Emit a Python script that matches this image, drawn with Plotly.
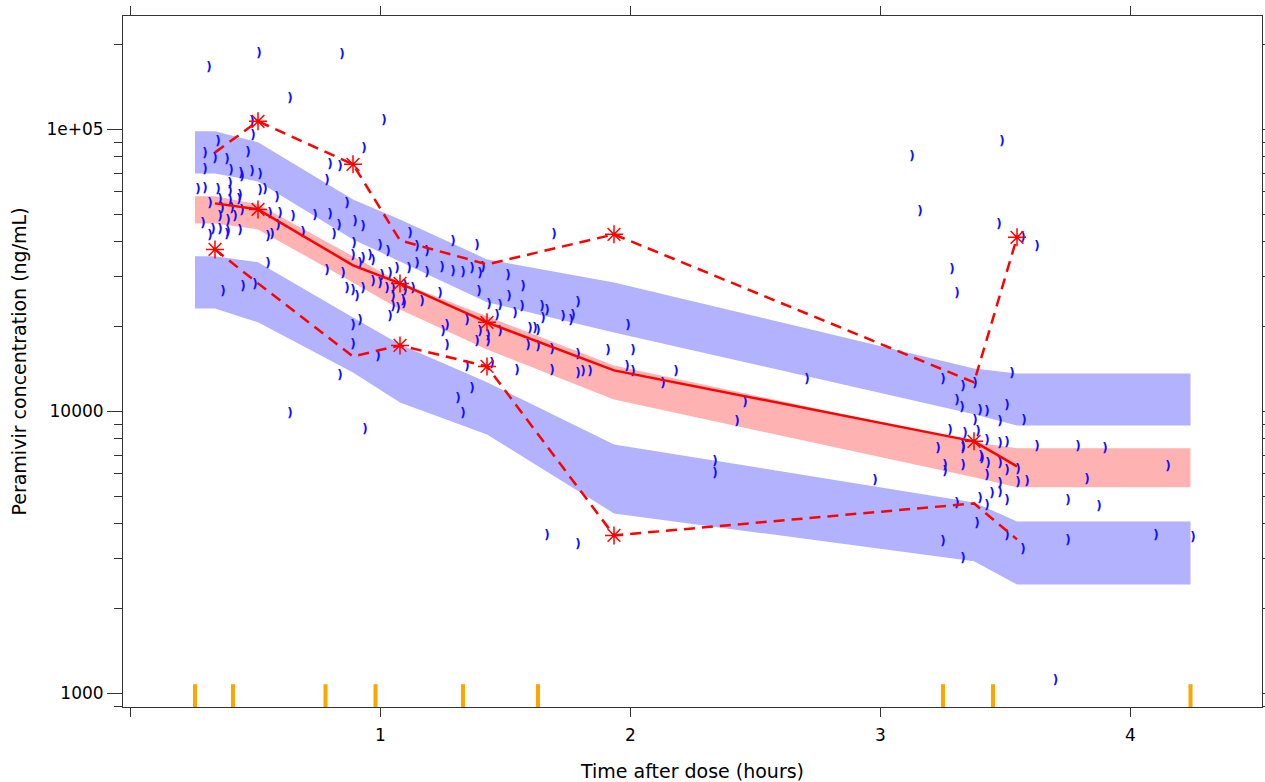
import plotly.graph_objects as go

# ---------------- data ----------------
# bin centres (hours) and the band end points (first / last bin boundary)
bin_time = [0.338, 0.51, 0.89, 1.078, 1.426, 1.934, 3.374, 3.546]
band_time = [0.258, 0.338, 0.51, 0.89, 1.078, 1.426, 1.934, 3.374, 3.546, 4.24]

# simulated prediction-interval confidence bands (ng/mL)
p95_upper = [98390, 98390, 89940, 56470, 47960, 34600, 28670, 14210, 13640, 13640]
p95_lower = [69820, 69820, 65410, 40730, 34040, 24360, 19060, 9764, 8923, 8923]
p50_upper = [57880, 57880, 54220, 35460, 28670, 21730, 14560, 7767, 7396, 7396]
p50_lower = [46420, 46420, 44200, 28670, 23000, 16590, 11030, 5837, 5379, 5379]
p05_upper = [35460, 35460, 33770, 21550, 17280, 12680, 7641, 4758, 4074, 4074]
p05_lower = [23190, 23190, 20690, 13750, 10760, 8291, 4350, 2940, 2436, 2436]

# observed percentiles per bin (ng/mL)
obs_p95 = [82880, 106800, 75160, 40400, 33220, 42440, 12680, 41410]
obs_p50 = [54660, 52040, 32950, 28440, 20690, 13980, 7831, 6385]
obs_p05 = [37540, 28440, 15670, 17140, 14440, 3635, 4719, 3518]

# bins where the observed percentile is flagged with a star
flag_p95 = [False, True, True, False, False, True, False, True]
flag_p50 = [False, True, False, True, True, False, True, False]
flag_p05 = [True, False, False, True, True, True, False, False]

# bin boundaries (rug)
bin_bounds = [0.258, 0.41, 0.78, 0.98, 1.33, 1.63, 3.25, 3.45, 4.24]

# observations
obs_time = [
    0.314, 0.514, 0.846, 0.638, 1.014, 0.486, 0.49, 0.35, 0.934, 0.298,
    0.338, 0.386, 0.47, 0.798, 0.838, 0.298, 0.402, 0.442, 0.446, 0.486,
    0.518, 0.786, 0.27, 0.298, 0.35, 0.398, 0.398, 0.438, 0.518, 0.538,
    0.586, 0.866, 0.318, 0.358, 0.398, 0.434, 0.366, 0.406, 0.446, 0.558,
    0.598, 0.65, 0.738, 0.798, 0.834, 0.898, 0.93, 0.29, 0.358, 0.39,
    0.418, 0.33, 0.358, 0.39, 0.438, 0.59, 0.69, 0.814, 0.318, 0.386,
    0.55, 0.566, 0.894, 0.998, 1.03, 0.958, 0.93, 0.89, 0.918, 0.97,
    1.118, 1.146, 1.114, 0.55, 0.786, 0.85, 0.866, 0.89, 0.93, 0.906,
    0.97, 0.998, 1.026, 1.05, 1.006, 1.038, 1.066, 1.098, 1.13, 1.05,
    1.09, 1.05, 1.07, 1.038, 0.37, 0.45, 0.498, 0.89, 0.918, 0.89,
    0.99, 0.838, 0.638, 0.938,
    1.186, 1.29, 1.386, 1.694, 1.146, 1.186, 1.246, 1.29, 1.33, 1.366,
    1.398, 1.41, 1.51, 1.57, 1.394, 1.514, 1.098, 1.094, 1.166, 1.238,
    1.434, 1.478, 1.466, 1.538, 1.566, 1.646, 1.666, 1.65, 1.598, 1.618,
    1.63, 1.73, 1.77, 1.79, 1.762, 1.346, 1.398, 1.43, 1.43, 1.386,
    1.478, 1.25, 1.266, 1.266, 1.59, 1.63, 1.686, 1.79, 1.99, 1.91,
    2.01, 1.546, 1.686, 1.79, 1.81, 1.838, 1.986, 1.346, 1.446, 1.366,
    1.31, 1.33, 1.666, 1.79,
    3.286, 3.306, 2.01, 2.182, 2.13, 2.706, 2.458, 2.426, 2.338, 2.338,
    2.978, 3.25, 3.33, 3.378, 3.306, 3.326, 3.398, 3.426, 3.378, 3.278,
    3.338, 3.39, 3.23, 3.33, 3.426, 3.258, 3.258, 3.33, 3.406, 3.43,
    3.426, 3.306, 3.398, 3.426, 3.386, 3.25, 3.33,
    3.526, 3.506, 3.478, 3.574, 3.33, 3.478, 3.506, 3.626, 3.79, 3.898,
    3.402, 3.478, 3.506, 3.55, 4.15, 3.478, 3.55, 3.586, 3.826, 3.446,
    3.478, 3.506, 3.75, 3.874, 3.506, 3.57, 3.75, 4.102, 4.25,
    3.486, 3.126, 3.158, 3.474, 3.57, 3.626, 3.7,
]
obs_conc = [
    164500, 184400, 182900, 127700, 106800, 105900, 94460, 89940, 84930, 81540,
    78280, 77650, 82200, 74550, 73340, 71560, 70980, 69260, 67590, 70400,
    68700, 65410, 60770, 61270, 60770, 63830, 59790, 57880, 60280, 60770,
    56940, 54220, 54220, 56010, 55560, 56010, 52040, 52040, 51200, 49960,
    49960, 48760, 49160, 49560, 45300, 46800, 44930, 46050, 48760, 47190,
    48760, 43840, 43840, 43130, 43490, 45300, 42780, 42090, 41750, 42090,
    41410, 42090, 39100, 38470, 36640, 35460, 34600, 35460, 33220, 34040,
    42440, 38160, 31880, 33220, 31370, 30610, 27080, 26640, 27080, 25370,
    28670, 28210, 27080, 27080, 30110, 30610, 31880, 27750, 27080, 25370,
    24560, 23390, 23000, 21550, 26430, 27530, 27980, 20030, 20860, 17140,
    15540, 13310, 9764, 8566,
    36640, 39750, 38470, 42090, 33220, 30860, 32150, 31110, 30860, 31880,
    30610, 32150, 30110, 27530, 26430, 25370, 26640, 23960, 24360, 26000,
    23770, 23580, 21730, 22080, 23390, 23390, 22630, 21200, 19530, 19530,
    19220, 21550, 21730, 24160, 20860, 20860, 19060, 18450, 17570, 17570,
    19060, 19060, 20030, 17000, 17000, 16860, 16460, 15800, 20030, 16320,
    16320, 13860, 13860, 13530, 13750, 13750, 14330, 14330, 14680, 11970,
    11030, 9764, 3606, 3350,
    31620, 26000, 13750, 13750, 12470, 12880, 10680, 9144, 6597, 5981,
    5649, 12880, 12170, 12470, 10850, 10250, 10010, 9925, 9219, 8497,
    8291, 8428, 7335, 7335, 7831, 6385, 6080, 6385, 6760, 6490,
    5885, 4681, 4876, 4606, 3976, 3433, 2988,
    13530, 10420, 9144, 9219, 7457, 7641, 7704, 7457, 7457, 7335,
    6872, 6490, 6130, 6180, 6333, 5512, 5557, 5603, 5694, 5080,
    5121, 4797, 4797, 4568, 3606, 3216, 3461, 3606, 3547,
    89940, 79570, 50790, 45670, 41060, 38160, 1110,
]

x_ticks = [0, 1, 2, 3, 4]
x_tick_text = ["", "1", "2", "3", "4"]
y_ticks = [1000, 10000, 100000]
y_tick_text = ["1000", "10000", "1e+05"]
y_minor = [900, 2000, 3000, 4000, 5000, 6000, 7000, 8000, 9000,
           20000, 30000, 40000, 50000, 60000, 70000, 80000, 90000, 200000]

# ---------------- figure ----------------
BLUE_BAND = "rgb(178,178,255)"
RED_BAND = "rgb(255,178,178)"
RED = "#FF0000"

fig = go.Figure()


def band(lo, hi, color):
    fig.add_trace(go.Scatter(
        x=band_time + band_time[::-1],
        y=hi + lo[::-1],
        fill="toself", fillcolor=color, mode="none",
        hoverinfo="skip", showlegend=False,
    ))


band(p95_lower, p95_upper, BLUE_BAND)
band(p50_lower, p50_upper, RED_BAND)
band(p05_lower, p05_upper, BLUE_BAND)

# observations drawn as small ")" glyphs
fig.add_trace(go.Scatter(
    x=obs_time, y=obs_conc, mode="text", text=["<b>)</b>"] * len(obs_time),
    textposition="middle center",
    textfont=dict(family="DejaVu Sans", size=12, color="#1010FF"),
    hoverinfo="skip", showlegend=False,
))

for vals, dash in ((obs_p95, "11px,7px"), (obs_p05, "11px,7px"), (obs_p50, "solid")):
    fig.add_trace(go.Scatter(
        x=bin_time, y=vals, mode="lines",
        line=dict(color=RED, width=2.5, dash=dash),
        hoverinfo="skip", showlegend=False,
    ))

for vals, flags in ((obs_p95, flag_p95), (obs_p50, flag_p50), (obs_p05, flag_p05)):
    fig.add_trace(go.Scatter(
        x=[t for t, f in zip(bin_time, flags) if f],
        y=[v for v, f in zip(vals, flags) if f],
        mode="markers",
        marker=dict(symbol="asterisk-open", size=15, color=RED,
                    line=dict(color=RED, width=1.5)),
        hoverinfo="skip", showlegend=False,
    ))

for b in bin_bounds:
    fig.add_shape(type="line", xref="x", yref="y domain",
                  x0=b, x1=b, y0=0, y1=0.033,
                  line=dict(color="#FFA500", width=4))

AX = "#333333"
fig.update_layout(
    width=1265, height=782,
    margin=dict(l=123, r=3, t=16, b=75, autoexpand=False),
    paper_bgcolor="white", plot_bgcolor="white",
    font=dict(family="DejaVu Sans", color="#000000"),
    xaxis=dict(
        range=[-0.03, 4.526], tickmode="array",
        tickvals=x_ticks, ticktext=x_tick_text,
        ticks="outside", ticklen=9, tickwidth=1, tickcolor=AX,
        showline=True, linecolor=AX, linewidth=1, mirror="ticks",
        showgrid=False, zeroline=False, automargin=False,
        tickfont=dict(size=17), ticklabelstandoff=4,
        title=dict(text="Time after dose (hours)", font=dict(size=19), standoff=20),
    ),
    yaxis=dict(
        type="log", range=[2.952, 5.402], tickmode="array",
        tickvals=y_ticks, ticktext=y_tick_text,
        ticks="outside", ticklen=15, tickwidth=1, tickcolor=AX,
        minor=dict(tickmode="array", tickvals=y_minor, ticks="outside",
                   ticklen=8, tickwidth=1, tickcolor=AX, showgrid=False),
        showline=True, linecolor=AX, linewidth=1, mirror="ticks",
        showgrid=False, zeroline=False, automargin=False,
        tickfont=dict(size=17),
        title=dict(text="Peramivir concentration (ng/mL)", font=dict(size=19), standoff=14),
    ),
)

# remove the default page margin so the figure fills the window exactly
fig.write_html(
    "out.html",
    config={"displayModeBar": False},
    post_script="document.body.style.margin='0';document.body.style.overflow='hidden';",
)
